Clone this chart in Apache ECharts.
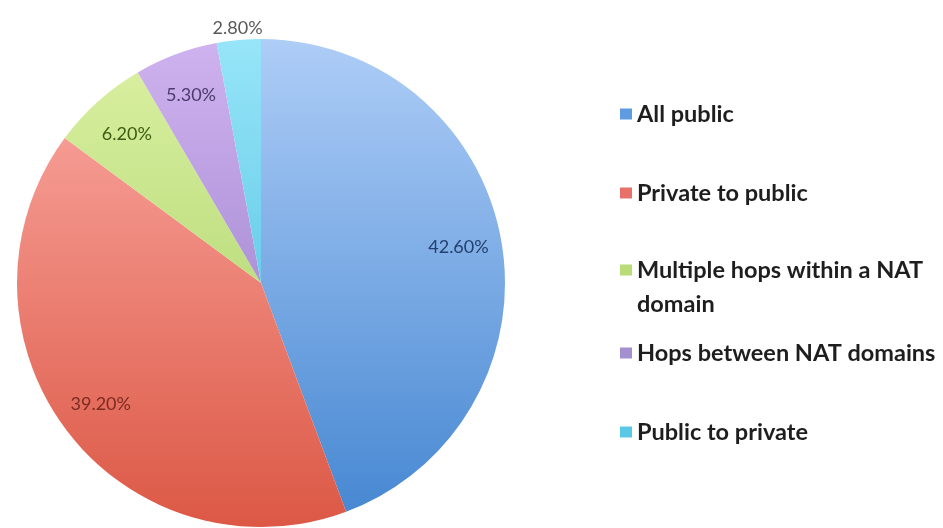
<!DOCTYPE html>
<html>
<head>
<meta charset="utf-8">
<script src="https://cdn.jsdelivr.net/npm/echarts@6/dist/echarts.min.js"></script>
<style>
html,body{margin:0;padding:0;background:#fff;}
#c{width:943px;height:528px;}
</style>
</head>
<body>
<div id="c"></div>
<script>
// ---- data ----
const categories = ['All public', 'Private to public', 'Multiple hops within a NAT domain', 'Hops between NAT domains', 'Public to private'];
const values = [42.6, 39.2, 6.2, 5.3, 2.8];
const legendLabels = ['All public', 'Private to public', 'Multiple hops within a NAT\ndomain', 'Hops between NAT domains', 'Public to private'];

// ---- styles ----
const gradTop = ['#aecdf7', '#fcaca6', '#dbf1a3', '#cfb3ef', '#97e5f8'];
const gradBottom = ['#4486d1', '#dc5845', '#a2cc5e', '#8d71c2', '#3ab6db'];
const legendColors = ['#5e9be0', '#e8706a', '#b9dc78', '#a48fd0', '#58c8e4'];
const labelColors = ['#24406e', '#7b2b22', '#3d5c13', '#4b3b6d', '#595959'];
const legendCenters = [114, 193, 270, 353, 432];

const CX = 261, CY = 283, R = 244;

const chart = echarts.init(document.getElementById('c'), null, {renderer: 'canvas'});

function fmt(p) { return p.value.toFixed(2) + '%'; }

const mainData = categories.map((n, i) => ({
  name: n,
  value: values[i],
  itemStyle: {
    color: {
      type: 'linear', global: true,
      x: 0, y: CY - R, x2: 0, y2: CY + R,
      colorStops: [{offset: 0, color: gradTop[i]}, {offset: 1, color: gradBottom[i]}]
    }
  }
}));

const innerLabelData = categories.map((n, i) => ({
  name: n, value: values[i],
  label: {show: i < 4, color: labelColors[i]}
}));
const outerLabelData = categories.map((n, i) => ({
  name: n, value: values[i],
  label: {show: i === 4, color: labelColors[i]}
}));

const labelFont = {fontFamily: 'Lato', fontSize: 18, fontWeight: 'normal'};

const legends = categories.map((n, i) => {
  const twoLine = legendLabels[i].indexOf('\n') >= 0;
  const lh = twoLine ? 34 : 28;
  const h = twoLine ? 2 * lh : lh;
  // for the two-line item the marker sits on the first line
  const blockCenter = twoLine ? legendCenters[i] + lh / 2 : legendCenters[i];
  const iconH = twoLine ? 2 * (blockCenter - legendCenters[i]) + 11 : 11;
  return {
    data: [n],
    orient: 'vertical',
    left: 620,
    top: blockCenter - h / 2,
    padding: 0,
    itemWidth: 12,
    itemHeight: iconH,
    icon: twoLine ? 'path://M0,0L12,0L12,11L0,11Z M0,' + iconH + 'L12,' + iconH + 'L12,' + (iconH + 0.001) + 'L0,' + (iconH + 0.001) + 'Z' : 'rect',
    itemStyle: {color: legendColors[i], borderWidth: 0},
    selectedMode: false,
    formatter: () => legendLabels[i],
    textStyle: {fontFamily: 'Lato', fontWeight: 'bold', fontSize: 23.5, color: '#1e1e1e', lineHeight: lh}
  };
});

chart.setOption({
  backgroundColor: '#ffffff',
  animation: false,
  legend: legends,
  series: [
    {
      type: 'pie',
      center: [CX, CY],
      radius: [0, R],
      startAngle: 90,
      clockwise: true,
      data: mainData,
      label: {show: false},
      labelLine: {show: false},
      itemStyle: {borderWidth: 0},
      emphasis: {scale: false}
    },
    {
      type: 'pie',
      center: [CX, CY],
      radius: [R * 0.62, R],
      startAngle: 90,
      silent: true,
      legendHoverLink: false,
      data: innerLabelData,
      itemStyle: {color: 'rgba(0,0,0,0)', borderWidth: 0},
      label: Object.assign({position: 'inside', formatter: fmt}, labelFont),
      labelLine: {show: false}
    },
    {
      type: 'pie',
      center: [CX, CY],
      radius: [R, R + 18],
      startAngle: 90,
      silent: true,
      legendHoverLink: false,
      data: outerLabelData,
      itemStyle: {color: 'rgba(0,0,0,0)', borderWidth: 0},
      label: Object.assign({position: 'inside', formatter: fmt}, labelFont),
      labelLine: {show: false}
    }
  ]
});
</script>
</body>
</html>
